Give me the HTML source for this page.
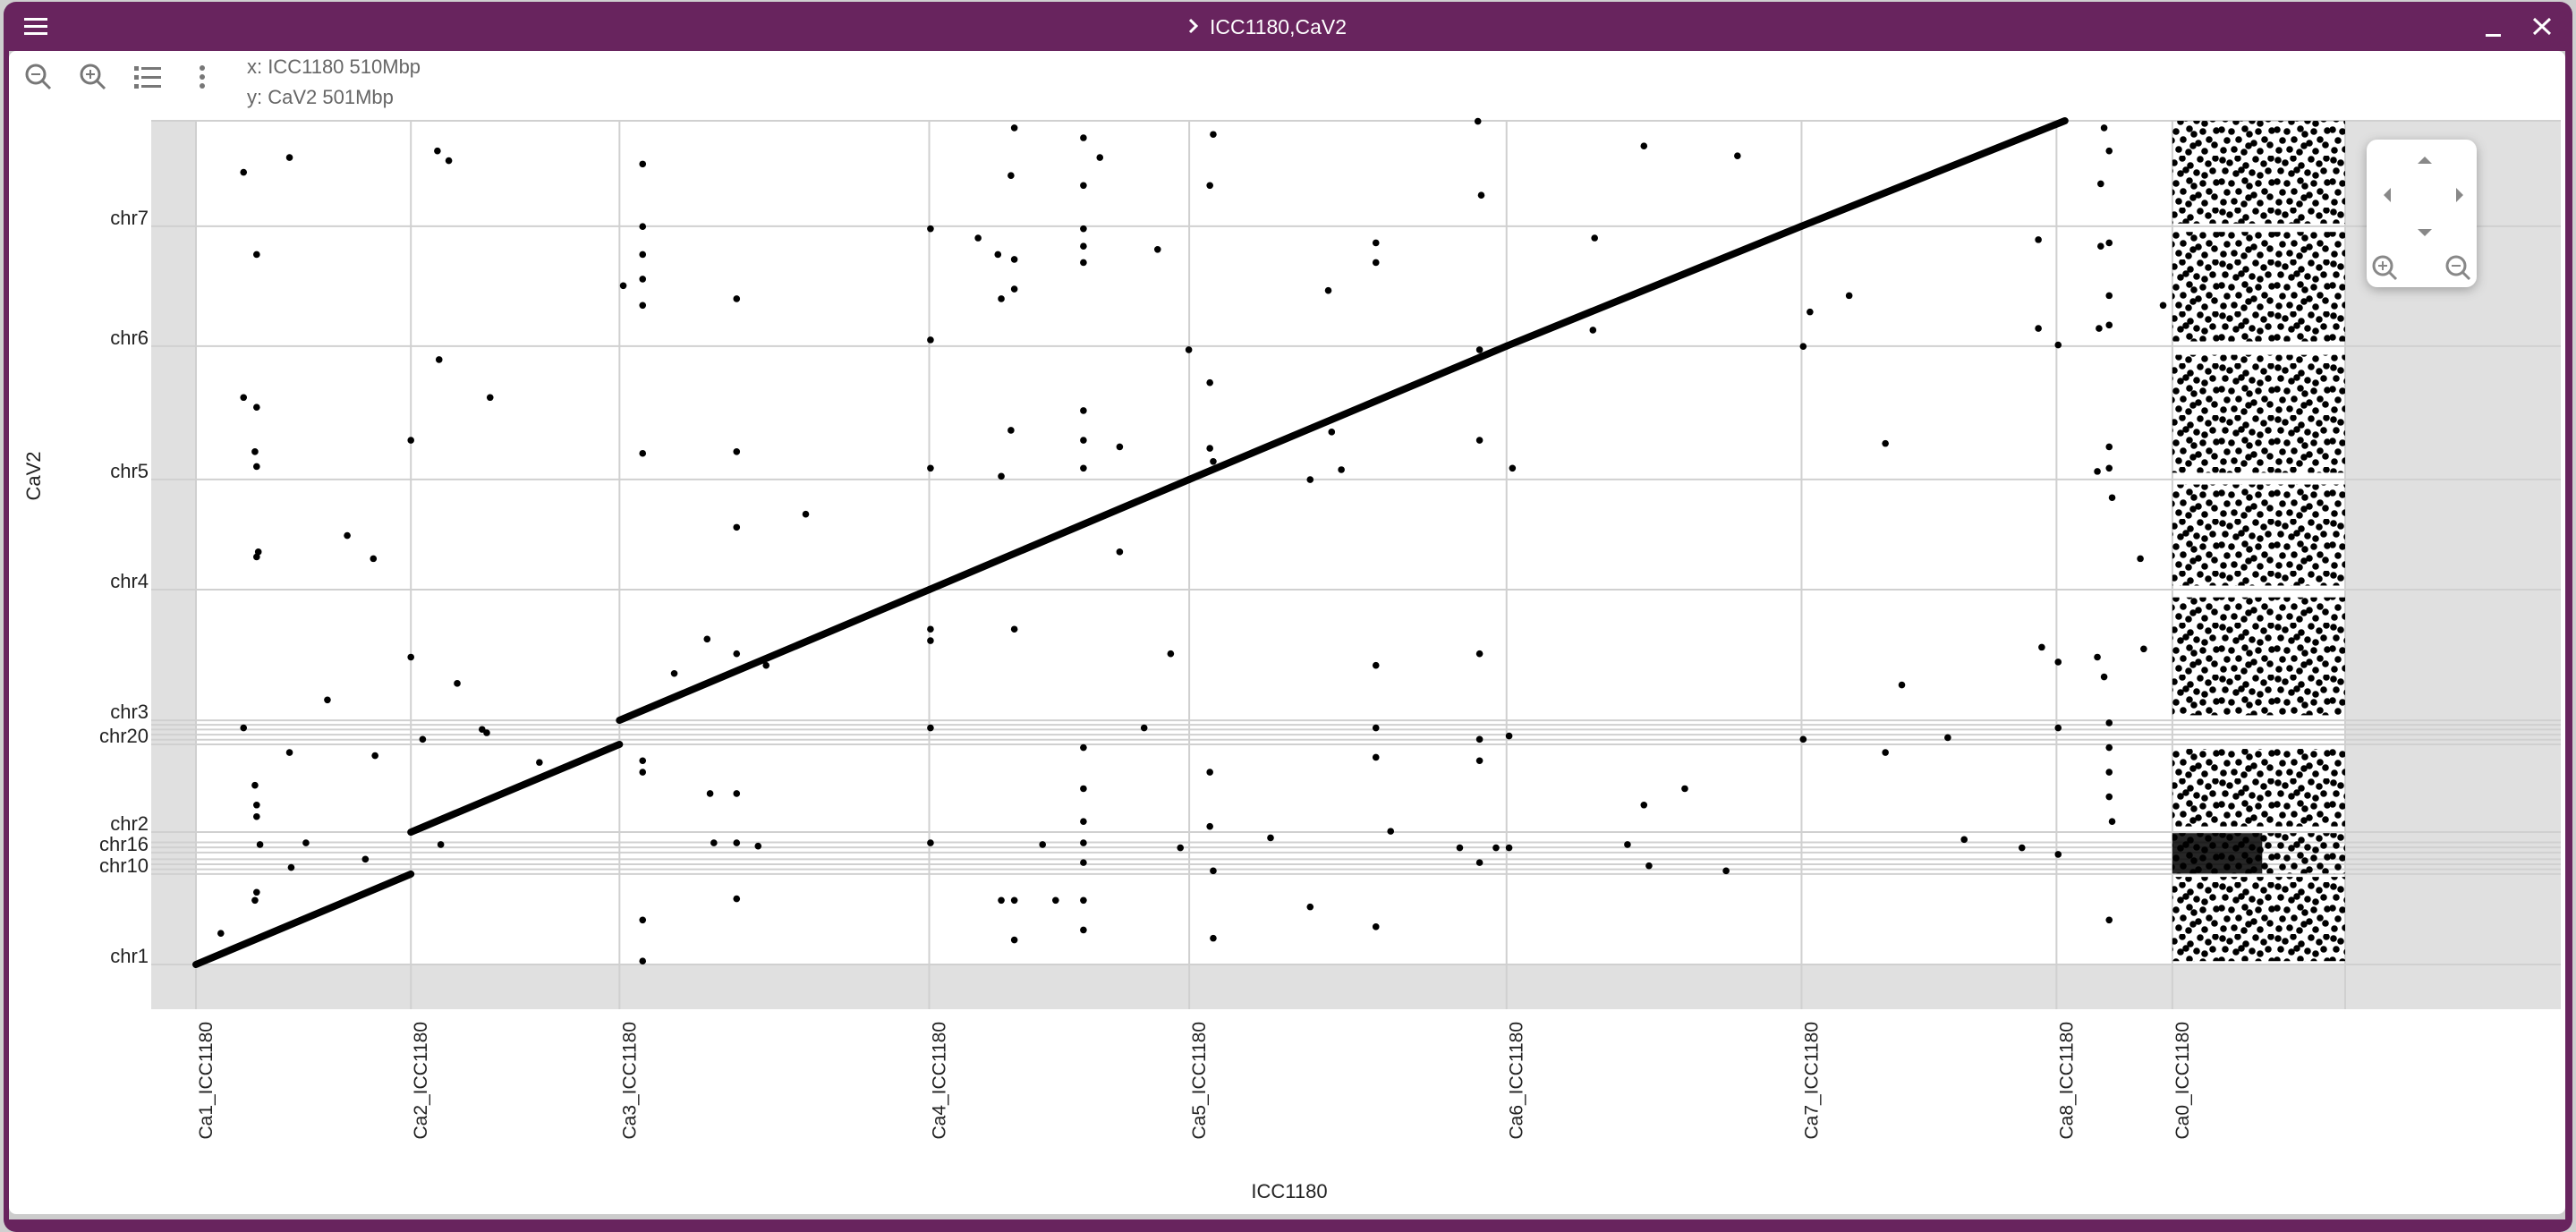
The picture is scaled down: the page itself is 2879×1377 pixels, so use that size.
<!DOCTYPE html>
<html><head><meta charset="utf-8">
<style>
html,body{margin:0;padding:0;width:2879px;height:1377px;overflow:hidden;background:#cfcfcf;font-family:"Liberation Sans",sans-serif}
svg{display:block}
</style></head>
<body>
<svg id="root" width="2879" height="1377" viewBox="0 0 2879 1377" xmlns="http://www.w3.org/2000/svg">
<defs>
<filter id="sh" x="-30%" y="-30%" width="160%" height="160%"><feDropShadow dx="0" dy="3" stdDeviation="6" flood-color="#000" flood-opacity="0.3"/></filter>
<pattern id="noise" width="62" height="58" patternUnits="userSpaceOnUse">
<g fill="#000">
<circle cx="4" cy="5" r="3.8"/><circle cx="12" cy="8" r="3.8"/><circle cx="21" cy="3" r="3.8"/><circle cx="30" cy="11" r="3.8"/><circle cx="41" cy="4" r="3.8"/><circle cx="50" cy="9" r="3.8"/><circle cx="58" cy="3" r="3.8"/>
<circle cx="7" cy="17" r="3.8"/><circle cx="19" cy="20" r="3.8"/><circle cx="25" cy="16" r="3.8"/><circle cx="37" cy="19" r="3.8"/><circle cx="46" cy="22" r="3.8"/><circle cx="55" cy="17" r="3.8"/>
<circle cx="3" cy="29" r="3.8"/><circle cx="14" cy="31" r="3.8"/><circle cx="29" cy="28" r="3.8"/><circle cx="34" cy="34" r="3.8"/><circle cx="44" cy="31" r="3.8"/><circle cx="59" cy="30" r="3.8"/>
<circle cx="9" cy="41" r="3.8"/><circle cx="22" cy="40" r="3.8"/><circle cx="39" cy="44" r="3.8"/><circle cx="51" cy="40" r="3.8"/><circle cx="57" cy="46" r="3.8"/>
<circle cx="5" cy="52" r="3.8"/><circle cx="17" cy="51" r="3.8"/><circle cx="28" cy="54" r="3.8"/><circle cx="33" cy="47" r="3.8"/><circle cx="46" cy="53" r="3.8"/>
</g>
</pattern>
</defs>
<rect x="4" y="2" width="2871" height="1375" rx="14" fill="#68245e"/>
<rect x="10" y="57" width="2857" height="1306" fill="#cccccc"/>
<rect x="10" y="57" width="2857" height="1300" rx="8" fill="#ffffff"/>
<g fill="#fff"><rect x="27" y="20" width="26" height="3"/><rect x="27" y="28" width="26" height="3"/><rect x="27" y="36" width="26" height="3"/></g>
<path d="M1330 22 L1337 29 L1330 36" stroke="#fff" stroke-width="3" fill="none"/>
<text x="1352" y="38" font-size="23" fill="#fff">ICC1180,CaV2</text>
<rect x="2778" y="38" width="17" height="3" fill="#fff"/>
<path d="M2832 21 L2850 38 M2850 21 L2832 38" stroke="#fff" stroke-width="3"/>
<g stroke="#777" fill="none" stroke-width="3"><circle cx="40" cy="83" r="10"/><path d="M47 90 L56 99"/><path d="M35 83 H45" stroke-width="2"/></g>
<g stroke="#777" fill="none" stroke-width="3"><circle cx="101" cy="83" r="10"/><path d="M108 90 L117 99"/><path d="M96 83 H106 M101 78 V88" stroke-width="2"/></g>
<g fill="#777"><rect x="150" y="74" width="5" height="5"/><rect x="158" y="75" width="22" height="3"/><rect x="150" y="84" width="5" height="5"/><rect x="158" y="85" width="22" height="3"/><rect x="150" y="94" width="5" height="5"/><rect x="158" y="95" width="22" height="3"/></g>
<g fill="#777"><circle cx="226" cy="76" r="3"/><circle cx="226" cy="86" r="3"/><circle cx="226" cy="96" r="3"/></g>
<text x="276" y="82" font-size="22" fill="#666">x: ICC1180 510Mbp</text>
<text x="276" y="116" font-size="22" fill="#666">y: CaV2 501Mbp</text>
<g id="plot"></g>
<g>
<rect x="2645" y="156" width="123" height="165" rx="12" fill="#fff" filter="url(#sh)"/>
<path d="M2710 175 L2718 183 L2702 183 Z" fill="#888"/>
<path d="M2710 264 L2718 256 L2702 256 Z" fill="#888"/>
<path d="M2664 218 L2672 210 L2672 226 Z" fill="#888"/>
<path d="M2753 218 L2745 210 L2745 226 Z" fill="#888"/>
<g stroke="#888" fill="none" stroke-width="3"><circle cx="2663" cy="297" r="10"/><path d="M2670 304 L2678 312"/><path d="M2658 297 H2668 M2663 292 V302" stroke-width="2"/></g>
<g stroke="#888" fill="none" stroke-width="3"><circle cx="2745" cy="297" r="10"/><path d="M2752 304 L2760 312"/><path d="M2740 297 H2750" stroke-width="2"/></g>
</g>
</svg>
<script>
const xChromNames=["Ca1_ICC1180","Ca2_ICC1180","Ca3_ICC1180","Ca4_ICC1180","Ca5_ICC1180","Ca6_ICC1180","Ca7_ICC1180","Ca8_ICC1180","Ca0_ICC1180"];
const xChromStart=[0,51,100.5,174,235.7,311,381,441.5,469];
const xTotal=510;
const yChromNames=["chr1","chr10","","","","chr16","","","chr2","chr20","","","","","chr3","chr4","chr5","chr6","chr7"];
const yChromStart=[0,53.7,56.5,59.5,62.5,66.5,69.5,72.5,78.6,130.7,133.5,136.5,139.5,142.3,145,222.6,288,367.2,438.4];
const yTotal=501;
const segX0=[0,51,100.5,174,235.7,311,381];
const segX1=[51,100.5,174,235.7,311,381,443.5];
const segY0=[0,78.6,145,222.6,288,367.2,438.4];
const segY1=[53.7,130.7,222.6,288,367.2,438.4,501];
const ptX=[11.3,22.2,14.4,11.3,14.4,14,14.4,14.8,14.4,35.9,42.1,31.2,11.3,22.2,42.5,14,14.4,14.4,26.1,15.2,22.6,40.2,14.4,14,5.9,57.3,60,57.7,69.8,51,51,62,67.9,53.8,69,81.5,58.1,
106,106,106,106,101.4,106,128.3,106,128.3,128.3,144.7,121.3,113.5,128.3,135.3,106,106,122,128.3,122.9,128.3,133.4,128.3,106,106,
174.3,174.3,174.3,174.3,174.3,174.3,174.3,194.2,193.4,210.6,214.5,210.6,210.6,210.6,210.6,185.6,190.3,194.2,191.1,194.2,228.2,193.4,191.1,210.6,210.6,210.6,219.2,219.2,194.2,231.3,225,210.6,210.6,210.6,210.6,210.6,200.9,191.1,194.2,204,210.6,194.2,210.6,233.6,
240.6,241.4,235.6,240.6,240.6,241.4,268.7,280,280,269.5,271.8,264.4,280,280,280,283.5,255,240.6,240.6,241.4,264.4,280,241.4,
304.2,305,304.6,304.6,312.4,331.9,331.5,304.6,304.6,311.6,304.6,299.9,308.5,311.6,304.6,343.6,365.8,343.6,353.3,339.7,344.8,363.1,
381.4,383,392.3,400.9,404.8,381.4,400.9,415.7,419.6,433.3,437.2,437.2,441.9,438,441.9,441.9,441.9,
452.8,454,452,454,452,454,454,451.6,454,454,451.2,454.7,451.2,452.8,454,454,454,454,454.7,454,461.4,462.2,466.8];
const ptY=[470.4,479.2,421.6,336.7,330.9,304.5,295.7,245,242,254.7,241,157.1,140.5,125.9,124,106.4,94.7,87.8,72.2,71.2,57.6,62.5,42.9,38.1,18.5,483.1,477.3,359.2,336.7,311.3,182.5,166.9,139.6,133.7,137.6,120,71.2,
475.3,438.2,421.6,407,403.1,391.4,395.3,303.5,304.5,259.6,267.4,193.2,172.8,184.5,177.6,121,114.2,101.5,101.5,72.2,72.2,70.3,39,26.4,2,
436.9,370.9,294.7,199.1,192.3,140.5,72.2,496.8,468.5,490.9,479.2,462.6,436.9,426.5,416.8,431.4,421.6,418.7,395.3,401.1,424.6,317.2,289.9,328.9,311.3,294.7,307.4,245,199.1,184.5,140.5,128.8,104.4,84.9,72.2,60.5,71.2,38.1,38.1,38.1,38.1,14.6,20.5,69.3,
462.6,492.9,365,345.5,306.5,298.7,400.2,428.5,416.8,316.2,293.8,287.9,177.6,140.5,123,79.1,75.2,114.2,82,55.6,34.2,22.4,15.6,
500.7,456.8,365,311.3,294.7,431.4,376.7,184.5,133.7,135.7,121,69.3,69.3,69.3,60.5,486,480.2,94.7,104.4,71.2,58.6,55.6,
367,387.5,397.2,309.4,166,133.7,125.9,134.7,74.2,69.3,430.4,377.7,367.9,188.4,179.6,140.5,65.4,
496.8,483.1,463.6,428.5,426.5,397.2,379.7,377.7,307.4,294.7,292.8,277.2,182.5,170.8,143.5,128.8,114.2,99.6,84.9,26.4,241,187.4,391.4];
const cloudBandY0=[2,54,82,148,225,292,370,440];
const cloudBandY1=[52,78,128,218,285,362,435,501];

const L=219,R=2621,T=135,B=1078;
const sx=v=>L+(v/xTotal)*(R-L);
const sy=v=>B-(v/yTotal)*(B-T);
const NS="http://www.w3.org/2000/svg";
const g=document.getElementById('plot');
function mk(tag,at,parent){const e=document.createElementNS(NS,tag);for(const k in at)e.setAttribute(k,at[k]);(parent||g).appendChild(e);return e;}

let e;
e=mk('rect',{x:169,y:T,width:2862-169,height:1128-T,fill:'#e0e0e0'});


e=mk('rect',{x:L,y:T,width:R-L,height:B-T,fill:'#ffffff'});



yChromStart.forEach((v,i)=>{
  const y=sy(v);
  const l=mk('line',{x1:169,x2:2862,y1:y,y2:y,stroke:'#d0d0d0','stroke-width':2});
  
  
  if(yChromNames[i]){
    const t=mk('text',{x:166,y:y-2,'text-anchor':'end','font-size':22,fill:'#222'});
    t.textContent=yChromNames[i];
    
    
  }
});
let tl=mk('line',{x1:169,x2:2862,y1:T,y2:T,stroke:'#d0d0d0','stroke-width':2});


xChromStart.concat([xTotal]).forEach((v,i)=>{
  const x=sx(v);
  const l=mk('line',{x1:x,x2:x,y1:T,y2:1128,stroke:'#d0d0d0','stroke-width':2});
  
  
  if(i<xChromNames.length){
    const t=mk('text',{x:0,y:0,'text-anchor':'end','font-size':21,fill:'#222',transform:`translate(${x+18},1142) rotate(-90)`});
    t.textContent=xChromNames[i];
    
    
  }
});
const cx0=sx(xChromStart[8]), cx1=sx(xTotal);
cloudBandY0.forEach((v,i)=>{
  const r=mk('rect',{x:cx0,y:sy(cloudBandY1[i]),width:cx1-cx0,height:sy(v)-sy(cloudBandY1[i]),fill:'url(#noise)'});
  
  
});
e=mk('rect',{x:cx0,y:sy(78),width:(cx1-cx0)*0.52,height:sy(54)-sy(78),fill:'#000','fill-opacity':0.85});


segX0.forEach((v,i)=>{
  const l=mk('line',{x1:sx(v),y1:sy(segY0[i]),x2:sx(segX1[i]),y2:sy(segY1[i]),stroke:'#000','stroke-width':8,'stroke-linecap':'round'});
  
  
});
ptX.forEach((v,i)=>{
  const c=mk('circle',{cx:sx(v),cy:sy(ptY[i]),r:3.8,fill:'#000'});
  
  
});
let at=mk('text',{x:1441,y:1339,'text-anchor':'middle','font-size':22,fill:'#222'});
at.textContent='ICC1180';


at=mk('text',{x:0,y:0,'text-anchor':'middle','font-size':22,fill:'#222',transform:'translate(45,532) rotate(-90)'});
at.textContent='CaV2';


</script>
</body></html>
